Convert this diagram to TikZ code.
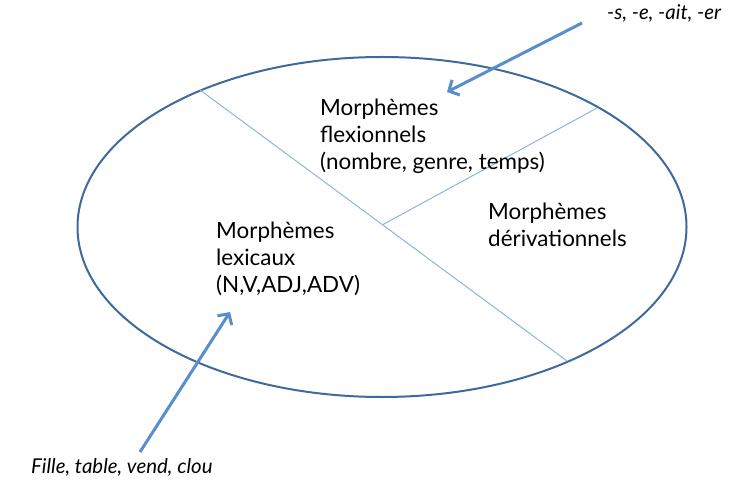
\documentclass[tikz,border=0pt]{standalone}
\usepackage{fontspec}
\setmainfont{Lato}
\usetikzlibrary{arrows.meta}
\definecolor{ellblue}{RGB}{62,106,160}
\definecolor{arrblue}{RGB}{88,142,204}
\definecolor{linblue}{RGB}{140,180,226}
\tikzset{
  lbl/.style={anchor=base west, inner sep=0pt, align=left, font=\fontsize{22.5}{27.5}\selectfont},
  ilbl/.style={anchor=base west, inner sep=0pt, font=\fontsize{20.5}{24}\selectfont\itshape},
  divider/.style={draw=linblue, line width=1bp},
  pointer/.style={draw=arrblue, line width=3bp, -{Straight Barb[length=8bp,width=17bp,line width=3bp]}}
}
\begin{document}
\begin{tikzpicture}[x=1bp,y=-1bp]
\useasboundingbox (0,0) rectangle (753,486);
\draw[ellblue, line width=2bp] (382,227) ellipse [x radius=304.5, y radius=170];
\coordinate (d1) at (200,90);
\coordinate (d2) at (567,361);
\coordinate (j) at (383,224.5);
\coordinate (d3) at (597,108);
\draw[divider] (d1) -- (d2);
\draw[divider] (j) -- (d3);
% anchors at the baseline of the last line
\node[lbl] (flex) at (320,170) {Morphèmes\\flexionnels\\(nombre, genre, temps)};
\node[lbl] (deriv) at (488,247) {Morphèmes\\dérivationnels};
\node[lbl] (lex) at (216,293) {Morphèmes\\lexicaux\\(N,V,ADJ,ADV)};
\node[ilbl] (suf) at (607,20) {-s, -e, -ait, -er};
\node[ilbl] (ex) at (31,473) {Fille, table, vend, clou};
\coordinate (s1) at (582,23);
\coordinate (s2) at (447,92);
\coordinate (e1) at (140,452);
\coordinate (e2) at (230,312);
\draw[pointer] (s1) -- (s2);
\draw[pointer] (e1) -- (e2);
\end{tikzpicture}
\end{document}
